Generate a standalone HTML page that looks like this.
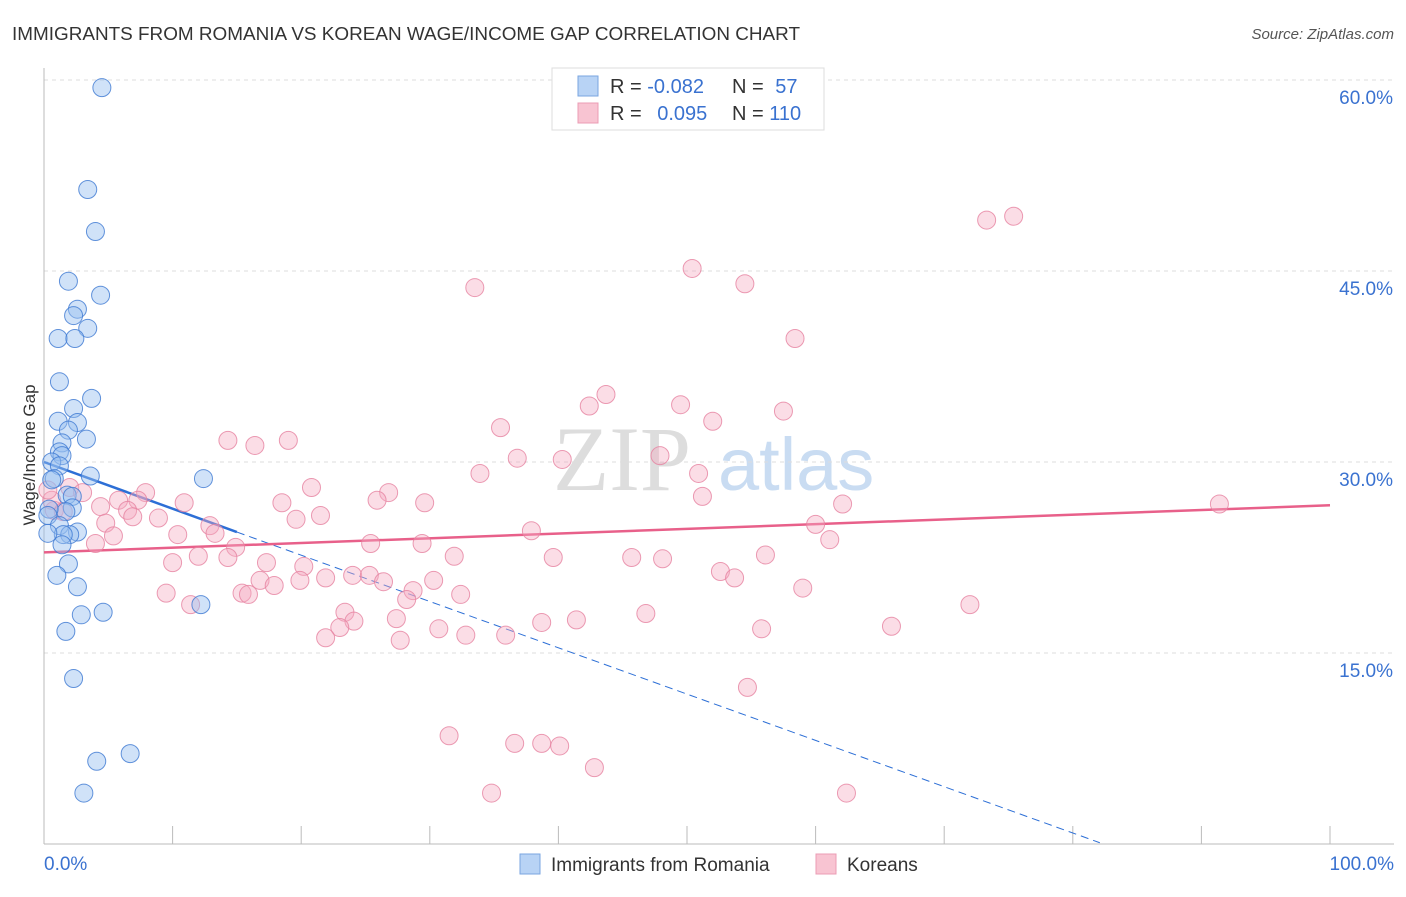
<!DOCTYPE html>
<html><head><meta charset="utf-8"><style>
body{margin:0;background:#fff;font-family:"Liberation Sans",sans-serif}
</style></head><body>
<svg width="1406" height="892" xmlns="http://www.w3.org/2000/svg" font-family="Liberation Sans, sans-serif">
<text x="12" y="40" font-size="18" fill="#333" textLength="788" lengthAdjust="spacingAndGlyphs">IMMIGRANTS FROM ROMANIA VS KOREAN WAGE/INCOME GAP CORRELATION CHART</text>
<text x="1394" y="39" font-size="15" fill="#555" text-anchor="end" font-style="italic">Source: ZipAtlas.com</text>
<g><text x="553" y="490" font-size="92" fill="#ddd" font-family="Liberation Serif, serif">ZIP</text><text x="718" y="490" font-size="74" fill="#c9dcf2">atlas</text></g>
<g id="grid"></g><g id="axes"></g><g id="trends"></g><g id="pts"></g>
<text transform="translate(35,455) rotate(-90)" font-size="17" fill="#333" text-anchor="middle">Wage/Income Gap</text>
<g>
<rect x="552" y="68" width="272" height="62" fill="#fff" stroke="#ddd"/>
<rect x="578" y="76" width="20" height="20" fill="#b8d3f5" stroke="#7aa6e0"/>
<rect x="578" y="103" width="20" height="20" fill="#f8c4d2" stroke="#eb9cb4"/>
<text x="610" y="93" font-size="20" fill="#333">R = <tspan fill="#3a72d0">-0.082</tspan></text>
<text x="732" y="93" font-size="20" fill="#333">N = <tspan fill="#3a72d0" dx="6">57</tspan></text>
<text x="610" y="120" font-size="20" fill="#333">R = <tspan fill="#3a72d0" dx="10">0.095</tspan></text>
<text x="732" y="120" font-size="20" fill="#333">N = <tspan fill="#3a72d0">110</tspan></text>
</g>
<g>
<rect x="520" y="854" width="20" height="20" fill="#b8d3f5" stroke="#7aa6e0"/>
<text x="551" y="871" font-size="19" fill="#333">Immigrants from Romania</text>
<rect x="816" y="854" width="20" height="20" fill="#f8c4d2" stroke="#eb9cb4"/>
<text x="847" y="871" font-size="19" fill="#333">Koreans</text>
</g>
</svg>
<script>
const yTicks=[15,30,45,60];
const yTickLabels=["15.0%","30.0%","45.0%","60.0%"];
const xTickLabels=["0.0%","100.0%"];
const blueX=[4.5,3.4,4.0,1.9,4.4,2.6,2.3,3.4,1.1,2.4,1.2,3.7,2.3,1.1,2.6,1.9,3.3,1.4,1.2,1.4,0.6,1.2,3.6,0.8,0.6,12.4,1.8,2.2,2.2,1.7,0.4,0.3,1.2,2.6,2.0,1.5,0.3,1.4,1.9,1.0,2.6,2.9,4.6,12.2,1.7,2.3,4.1,6.7,3.1];
const blueY=[59.4,51.4,48.1,44.2,43.1,42.0,41.5,40.5,39.7,39.7,36.3,35.0,34.2,33.2,33.1,32.5,31.8,31.5,30.8,30.5,30.0,29.7,28.9,28.7,28.6,28.7,27.4,27.3,26.4,26.1,26.3,25.8,25.0,24.5,24.3,24.3,24.4,23.5,22.0,21.1,20.2,18.0,18.2,18.8,16.7,13.0,6.5,7.1,4.0];
const pinkX=[75.4,73.3,50.4,33.5,54.5,58.4,43.7,42.4,49.5,57.5,52.0,35.5,14.3,19.0,16.4,36.8,40.3,47.9,33.9,50.9,91.4,62.1,51.2,20.8,26.8,7.9,2.0,3.0,5.8,7.3,10.9,18.5,25.9,29.6,4.4,6.5,6.9,8.9,19.6,21.5,4.8,12.9,13.3,37.9,60.0,5.4,10.4,4.0,25.4,29.4,14.9,61.1,0.8,0.6,1.5,0.3,12.0,14.3,10.0,31.9,39.6,45.7,48.1,56.1,17.3,20.2,52.6,53.7,21.9,24.0,25.3,26.4,16.8,17.9,19.9,30.3,28.7,28.2,32.4,9.5,15.4,15.9,59.0,11.4,72.0,46.8,23.4,27.4,24.1,38.7,41.4,23.0,65.9,30.7,32.8,35.9,55.8,21.9,27.7,54.7,31.5,36.6,38.7,40.1,42.8,34.8,62.4];
const pinkY=[49.3,49.0,45.2,43.7,44.0,39.7,35.3,34.4,34.5,34.0,33.2,32.7,31.7,31.7,31.3,30.3,30.2,30.5,29.1,29.1,26.7,26.7,27.3,28.0,27.6,27.6,28.0,27.6,27.0,27.0,26.8,26.8,27.0,26.8,26.5,26.2,25.7,25.6,25.5,25.8,25.2,25.0,24.4,24.6,25.1,24.2,24.3,23.6,23.6,23.6,23.3,23.9,26.2,27.0,26.1,27.8,22.6,22.5,22.1,22.6,22.5,22.5,22.4,22.7,22.1,21.8,21.4,20.9,20.9,21.1,21.1,20.6,20.7,20.3,20.7,20.7,19.9,19.2,19.6,19.7,19.7,19.6,20.1,18.8,18.8,18.1,18.2,17.7,17.5,17.4,17.6,17.0,17.1,16.9,16.4,16.4,16.9,16.2,16.0,12.3,8.5,7.9,7.9,7.7,6.0,4.0,4.0];
const blueTrend=[[0,30.0],[15,24.5],[82.1,0.1]];
const pinkTrend=[[0,22.9],[100,26.6]];
const NS="http://www.w3.org/2000/svg";
const X=v=>44+v*12.86, Y=v=>844-v*12.733;
function mk(t,a,p){const e=document.createElementNS(NS,t);for(const k in a)e.setAttribute(k,a[k]);document.getElementById(p).appendChild(e);return e;}
yTicks.forEach((t,i)=>{
 const g=mk('line',{x1:44,x2:1394,y1:Y(t),y2:Y(t),stroke:'#ddd','stroke-dasharray':'4,4'},'grid');
 
 
 const l=mk('text',{x:1393,y:Y(t)+24,'font-size':19,fill:'#3a72d0','text-anchor':'end'},'axes');l.textContent=yTickLabels[i];
 
 
});
mk('line',{x1:44,x2:44,y1:68,y2:844,stroke:'#bbb'},'axes');
mk('line',{x1:44,x2:1394,y1:844,y2:844,stroke:'#bbb'},'axes');
for(let i=0;i<=10;i++){const t=mk('line',{x1:X(i*10),x2:X(i*10),y1:826,y2:844,stroke:'#bbb'},'axes');
 
 }
[[0,'start',44],[1,'end',1394]].forEach(([i,a,x])=>{const l=mk('text',{x:x,y:870,'font-size':19,fill:'#3a72d0','text-anchor':a},'axes');l.textContent=xTickLabels[i];
 
 });
pinkX.forEach((v,i)=>{const c=mk('circle',{cx:X(v),cy:Y(pinkY[i]),r:9,fill:'rgba(245,170,192,0.4)',stroke:'rgba(230,130,160,0.8)','stroke-width':1},'pts');
 
 });
blueX.forEach((v,i)=>{const c=mk('circle',{cx:X(v),cy:Y(blueY[i]),r:9,fill:'rgba(150,190,240,0.45)',stroke:'rgba(60,120,210,0.8)','stroke-width':1},'pts');
 
 });
let b=mk('line',{x1:X(blueTrend[0][0]),y1:Y(blueTrend[0][1]),x2:X(blueTrend[1][0]),y2:Y(blueTrend[1][1]),stroke:'#2d6fd6','stroke-width':2.5},'trends');


b=mk('line',{x1:X(blueTrend[1][0]),y1:Y(blueTrend[1][1]),x2:X(blueTrend[2][0]),y2:Y(blueTrend[2][1]),stroke:'#2d6fd6','stroke-width':1,'stroke-dasharray':'8,5'},'trends');


b=mk('line',{x1:X(pinkTrend[0][0]),y1:Y(pinkTrend[0][1]),x2:X(pinkTrend[1][0]),y2:Y(pinkTrend[1][1]),stroke:'#e8608a','stroke-width':2.5},'trends');


</script>
</body></html>
